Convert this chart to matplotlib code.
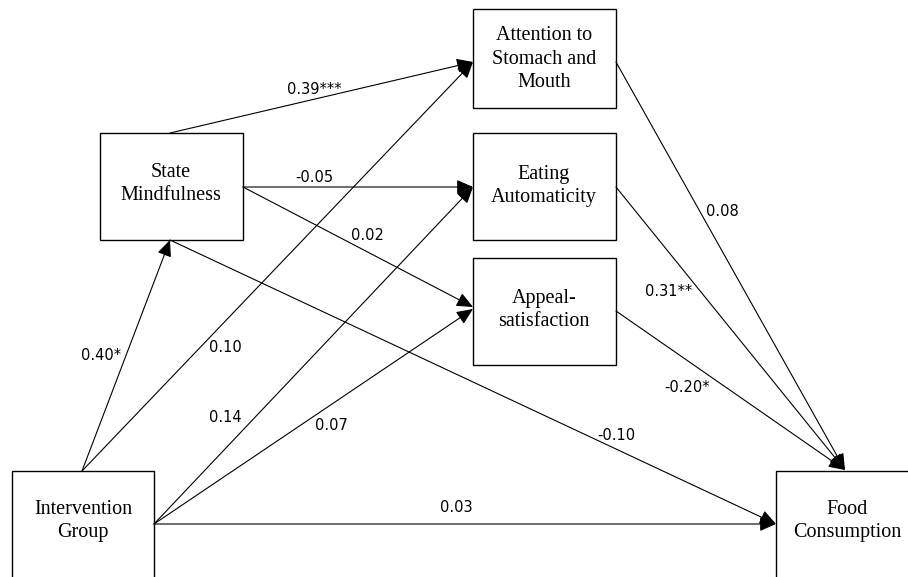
import matplotlib
matplotlib.use("Agg")
import matplotlib.pyplot as plt
from matplotlib.patches import Rectangle

# ---- data ----
node_labels = ["Intervention\nGroup", "State\nMindfulness", "Attention to\nStomach and\nMouth",
               "Eating\nAutomaticity", "Appeal-\nsatisfaction", "Food\nConsumption"]
path_from = [0, 0, 0, 0, 0, 1, 1, 1, 1, 2, 3, 4]
path_to   = [1, 2, 3, 4, 5, 2, 3, 4, 5, 5, 5, 5]
path_coef = ["0.40*", "0.10", "0.14", "0.07", "0.03", "0.39***", "-0.05", "0.02", "-0.10",
             "0.08", "0.31**", "-0.20*"]

# ---- layout (pixel coordinates, y downward) ----
W, H = 908, 577
boxes = [(12, 471, 154, 620), (100, 133, 243, 240), (473, 9, 616, 108),
         (473, 133, 616, 240), (473, 258, 616, 365), (776, 471, 950, 620)]
text_xy = [(83, 521), (171, 184), (544, 59), (544, 186), (544, 310), (847, 521)]
starts = [(82, 471), (82, 471), (154, 524), (154, 524), (154, 524), (170, 133), (243, 187),
          (243, 187), (170, 240), (616, 62), (616, 187), (616, 311)]
ends = [(170, 240), (473, 62), (473, 187), (473, 309), (776, 524), (473, 62), (473, 187),
        (473, 307), (776, 524), (845, 470), (845, 470), (845, 470)]
label_xy = [(101, 355), (225, 347), (225, 418), (331, 426), (456, 507), (314, 90), (314, 178),
            (367, 235), (616, 436), (722, 211), (669, 292), (687, 387)]

fig = plt.figure(figsize=(W / 100, H / 100), dpi=100)
ax = fig.add_axes([0, 0, 1, 1])
ax.set_xlim(0, W)
ax.set_ylim(H, 0)
ax.axis("off")

for (x0, y0, x1, y1), lab, (tx, ty) in zip(boxes, node_labels, text_xy):
    ax.add_patch(Rectangle((x0, y0), x1 - x0, y1 - y0, fill=False, edgecolor="black",
                           linewidth=1.0, zorder=2))
    ax.text(tx, ty, lab, ha="center", va="center", family="Liberation Serif",
            fontsize=14.5, linespacing=1.3, zorder=3)

for s, e, coef, lxy in zip(starts, ends, path_coef, label_xy):
    ax.annotate("", xy=e, xytext=s,
                arrowprops=dict(arrowstyle="-|>,head_length=0.5,head_width=0.22",
                                mutation_scale=20, color="black", linewidth=0.8,
                                shrinkA=0, shrinkB=0), zorder=1)
    ax.text(lxy[0], lxy[1], coef, ha="center", va="center", family="DejaVu Sans",
            fontsize=10.5, zorder=3)

fig.savefig("out.png", dpi=100)
